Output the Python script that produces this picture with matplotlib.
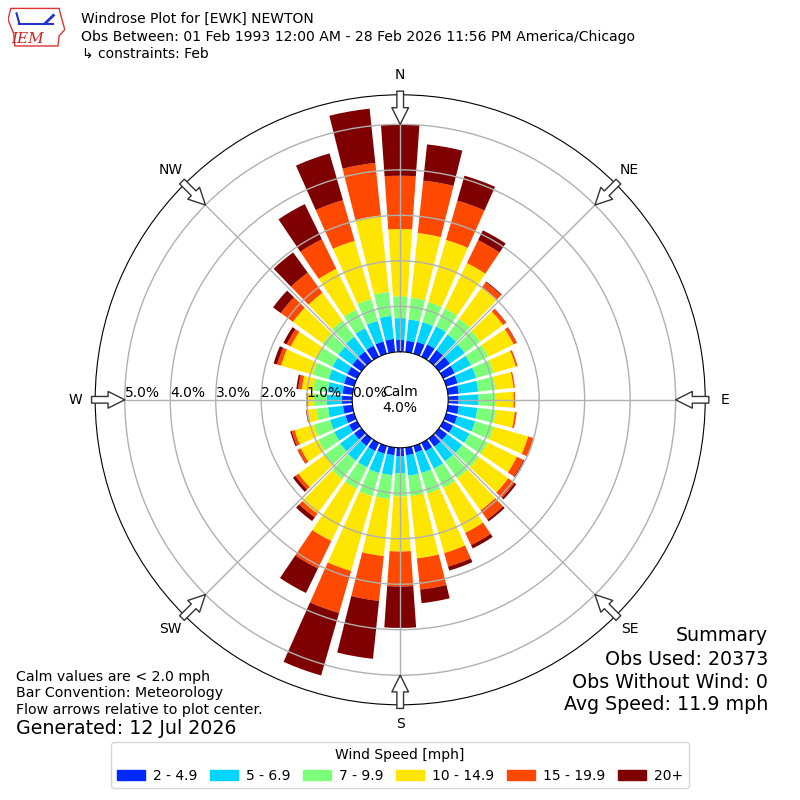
import numpy as np
import matplotlib.pyplot as plt
from matplotlib.patches import Patch, Polygon

# direction bins (degrees, meteorological) and speed classes
directions = np.arange(0, 360, 10)
speed_labels = ['2 - 4.9', '5 - 6.9', '7 - 9.9', '10 - 14.9', '15 - 19.9', '20+']
colors = ['#0028ff', '#00d4ff', '#7cff79', '#ffe600', '#ff4800', '#7f0000']

# frequency (%) per direction for each speed class
spd_2_5 = [0.26, 0.25, 0.27, 0.30, 0.30, 0.30, 0.28, 0.26, 0.24, 0.23, 0.24, 0.25,
           0.24, 0.22, 0.22, 0.20, 0.15, 0.17, 0.19, 0.17, 0.18, 0.20, 0.20, 0.20,
           0.20, 0.20, 0.21, 0.23, 0.22, 0.23, 0.24, 0.25, 0.26, 0.27, 0.28, 0.29]
spd_5_7 = [0.48, 0.47, 0.45, 0.44, 0.42, 0.40, 0.40, 0.42, 0.43, 0.44, 0.41, 0.41,
           0.40, 0.41, 0.40, 0.43, 0.47, 0.45, 0.37, 0.44, 0.44, 0.40, 0.40, 0.38,
           0.36, 0.35, 0.33, 0.33, 0.33, 0.35, 0.36, 0.38, 0.40, 0.43, 0.47, 0.51]
spd_7_10 = [0.48, 0.48, 0.46, 0.44, 0.43, 0.42, 0.42, 0.40, 0.38, 0.36, 0.41, 0.42,
            0.44, 0.45, 0.46, 0.47, 0.47, 0.45, 0.51, 0.53, 0.53, 0.52, 0.50, 0.42,
            0.39, 0.37, 0.26, 0.29, 0.32, 0.37, 0.40, 0.42, 0.44, 0.45, 0.50, 0.53]
spd_10_15 = [1.48, 1.43, 1.42, 1.11, 0.85, 0.62, 0.62, 0.51, 0.40, 0.41, 0.42, 0.79,
             0.72, 0.80, 0.87, 1.10, 1.36, 1.38, 1.21, 1.26, 1.71, 1.28, 0.94, 0.71,
             0.43, 0.44, 0.19, 0.12, 0.25, 0.72, 0.62, 0.81, 0.75, 1.00, 1.33, 1.69]
spd_15_20 = [1.17, 1.16, 0.90, 0.56, 0.14, 0.08, 0.07, 0.04, 0.03, 0.03, 0.04, 0.13,
             0.16, 0.17, 0.25, 0.30, 0.31, 0.69, 0.77, 0.99, 0.96, 0.67, 0.10, 0.08,
             0.07, 0.07, 0.03, 0.03, 0.08, 0.09, 0.10, 0.33, 0.55, 0.72, 0.93, 1.16]
spd_20p = [1.13, 0.80, 0.57, 0.24, 0.02, 0.01, 0.01, 0.00, 0.00, 0.00, 0.00, 0.01,
           0.02, 0.05, 0.05, 0.08, 0.09, 0.30, 0.91, 1.28, 1.43, 0.60, 0.10, 0.07,
           0.01, 0.03, 0.01, 0.01, 0.04, 0.08, 0.08, 0.21, 0.55, 0.86, 1.07, 1.20]
calm_pct = 4.0

speed_bins = [spd_2_5, spd_5_7, spd_7_10, spd_10_15, spd_15_20, spd_20p]

fig = plt.figure(figsize=(8, 8), dpi=100)
ax = fig.add_axes([0.119, 0.119, 0.7625, 0.7625], projection='polar')
ax.set_theta_zero_location('N')
ax.set_theta_direction(-1)
ax.set_rorigin(-1.055)
ax.set_ylim(0, 5.65)

theta = np.deg2rad(directions)
bottom = np.zeros(len(directions))
for vals, c in zip(speed_bins, colors):
    vals = np.array(vals)
    ax.bar(theta, vals, width=np.deg2rad(8), bottom=bottom, color=c,
           linewidth=0, zorder=1)
    bottom += vals

ax.set_yticks([1, 2, 3, 4, 5])
ax.set_yticklabels([])
ax.set_xticks(np.deg2rad(np.arange(0, 360, 45)))
ax.set_xticklabels(['N', 'NE', 'E', 'SE', 'S', 'SW', 'W', 'NW'])
ax.tick_params(axis='x', pad=3.5, labelsize=10)
ax.grid(True, color='#b0b0b0', lw=1)

for r in range(6):
    ax.text(np.deg2rad(270), r, '%.1f%%' % r, ha='left', va='bottom', fontsize=10)

ax.text(0.5, 0.5, 'Calm\n%.1f%%' % calm_pct, transform=ax.transAxes,
        ha='center', va='center', fontsize=10)

# flow arrows
for d in range(0, 360, 45):
    th = np.deg2rad(d)
    ax.annotate('', xy=(th, 5.0), xytext=(th, 5.73),
                arrowprops=dict(arrowstyle='simple,head_length=0.6,head_width=0.6,tail_width=0.24',
                                fc='white', ec='#333333', lw=1, mutation_scale=20,
                                shrinkA=0, shrinkB=0),
                annotation_clip=False, zorder=5)

# logo
lax = fig.add_axes([0.01, 0.94, 0.071, 0.051])
lax.set_xlim(0, 1)
lax.set_ylim(0, 1)
lax.axis('off')
lax.add_patch(Polygon([(0.05, 0.97), (0.9, 0.97), (0.93, 0.8), (0.97, 0.6), (1.0, 0.45),
                       (0.9, 0.3), (0.88, 0.05), (0.12, 0.05), (0.1, 0.35), (0.0, 0.7)],
                      closed=True, fill=False, ec='#dd3333', lw=1))
lax.plot([0.2, 0.8], [0.6, 0.6], color='#2233cc', lw=1.5)
lax.plot([0.2, 0.15], [0.6, 0.85], color='#2233cc', lw=1.5)
lax.plot([0.65, 0.8], [0.6, 0.8], color='#2233cc', lw=2)
lax.text(0.35, 0.22, 'IEM', color='#cc2222', fontsize=11, style='italic',
         family='DejaVu Serif', ha='center', va='center')

fig.text(0.101, 0.976, 'Windrose Plot for [EWK] NEWTON', fontsize=10, va='center')
fig.text(0.101, 0.954, 'Obs Between: 01 Feb 1993 12:00 AM - 28 Feb 2026 11:56 PM America/Chicago',
         fontsize=10.1, va='center')
fig.text(0.103, 0.9325, '\u21b3 constraints: Feb', fontsize=10, va='center')

fig.text(0.02, 0.15375, 'Calm values are < 2.0 mph', fontsize=10.2, va='center')
fig.text(0.02, 0.13375, 'Bar Convention: Meteorology', fontsize=10.2, va='center')
fig.text(0.02, 0.1125, 'Flow arrows relative to plot center.', fontsize=10.2, va='center')
fig.text(0.02, 0.08875, 'Generated: 12 Jul 2026', fontsize=13.7, va='center')

fig.text(0.96, 0.206, 'Summary', fontsize=13.7, ha='right', va='center')
fig.text(0.96, 0.176, 'Obs Used: 20373', fontsize=13.7, ha='right', va='center')
fig.text(0.96, 0.1475, 'Obs Without Wind: 0', fontsize=13.7, ha='right', va='center')
fig.text(0.96, 0.119, 'Avg Speed: 11.9 mph', fontsize=13.7, ha='right', va='center')

handles = [Patch(color=c) for c in colors]
fig.legend(handles, speed_labels, loc='upper center', bbox_to_anchor=(0.5, 1 - 742 / 800),
           ncol=6, title='Wind Speed [mph]', fontsize=10, title_fontsize=10,
           handlelength=2, handleheight=0.7, handletextpad=0.6, columnspacing=0.9,
           borderaxespad=0)

fig.savefig('out.png', dpi=100)
